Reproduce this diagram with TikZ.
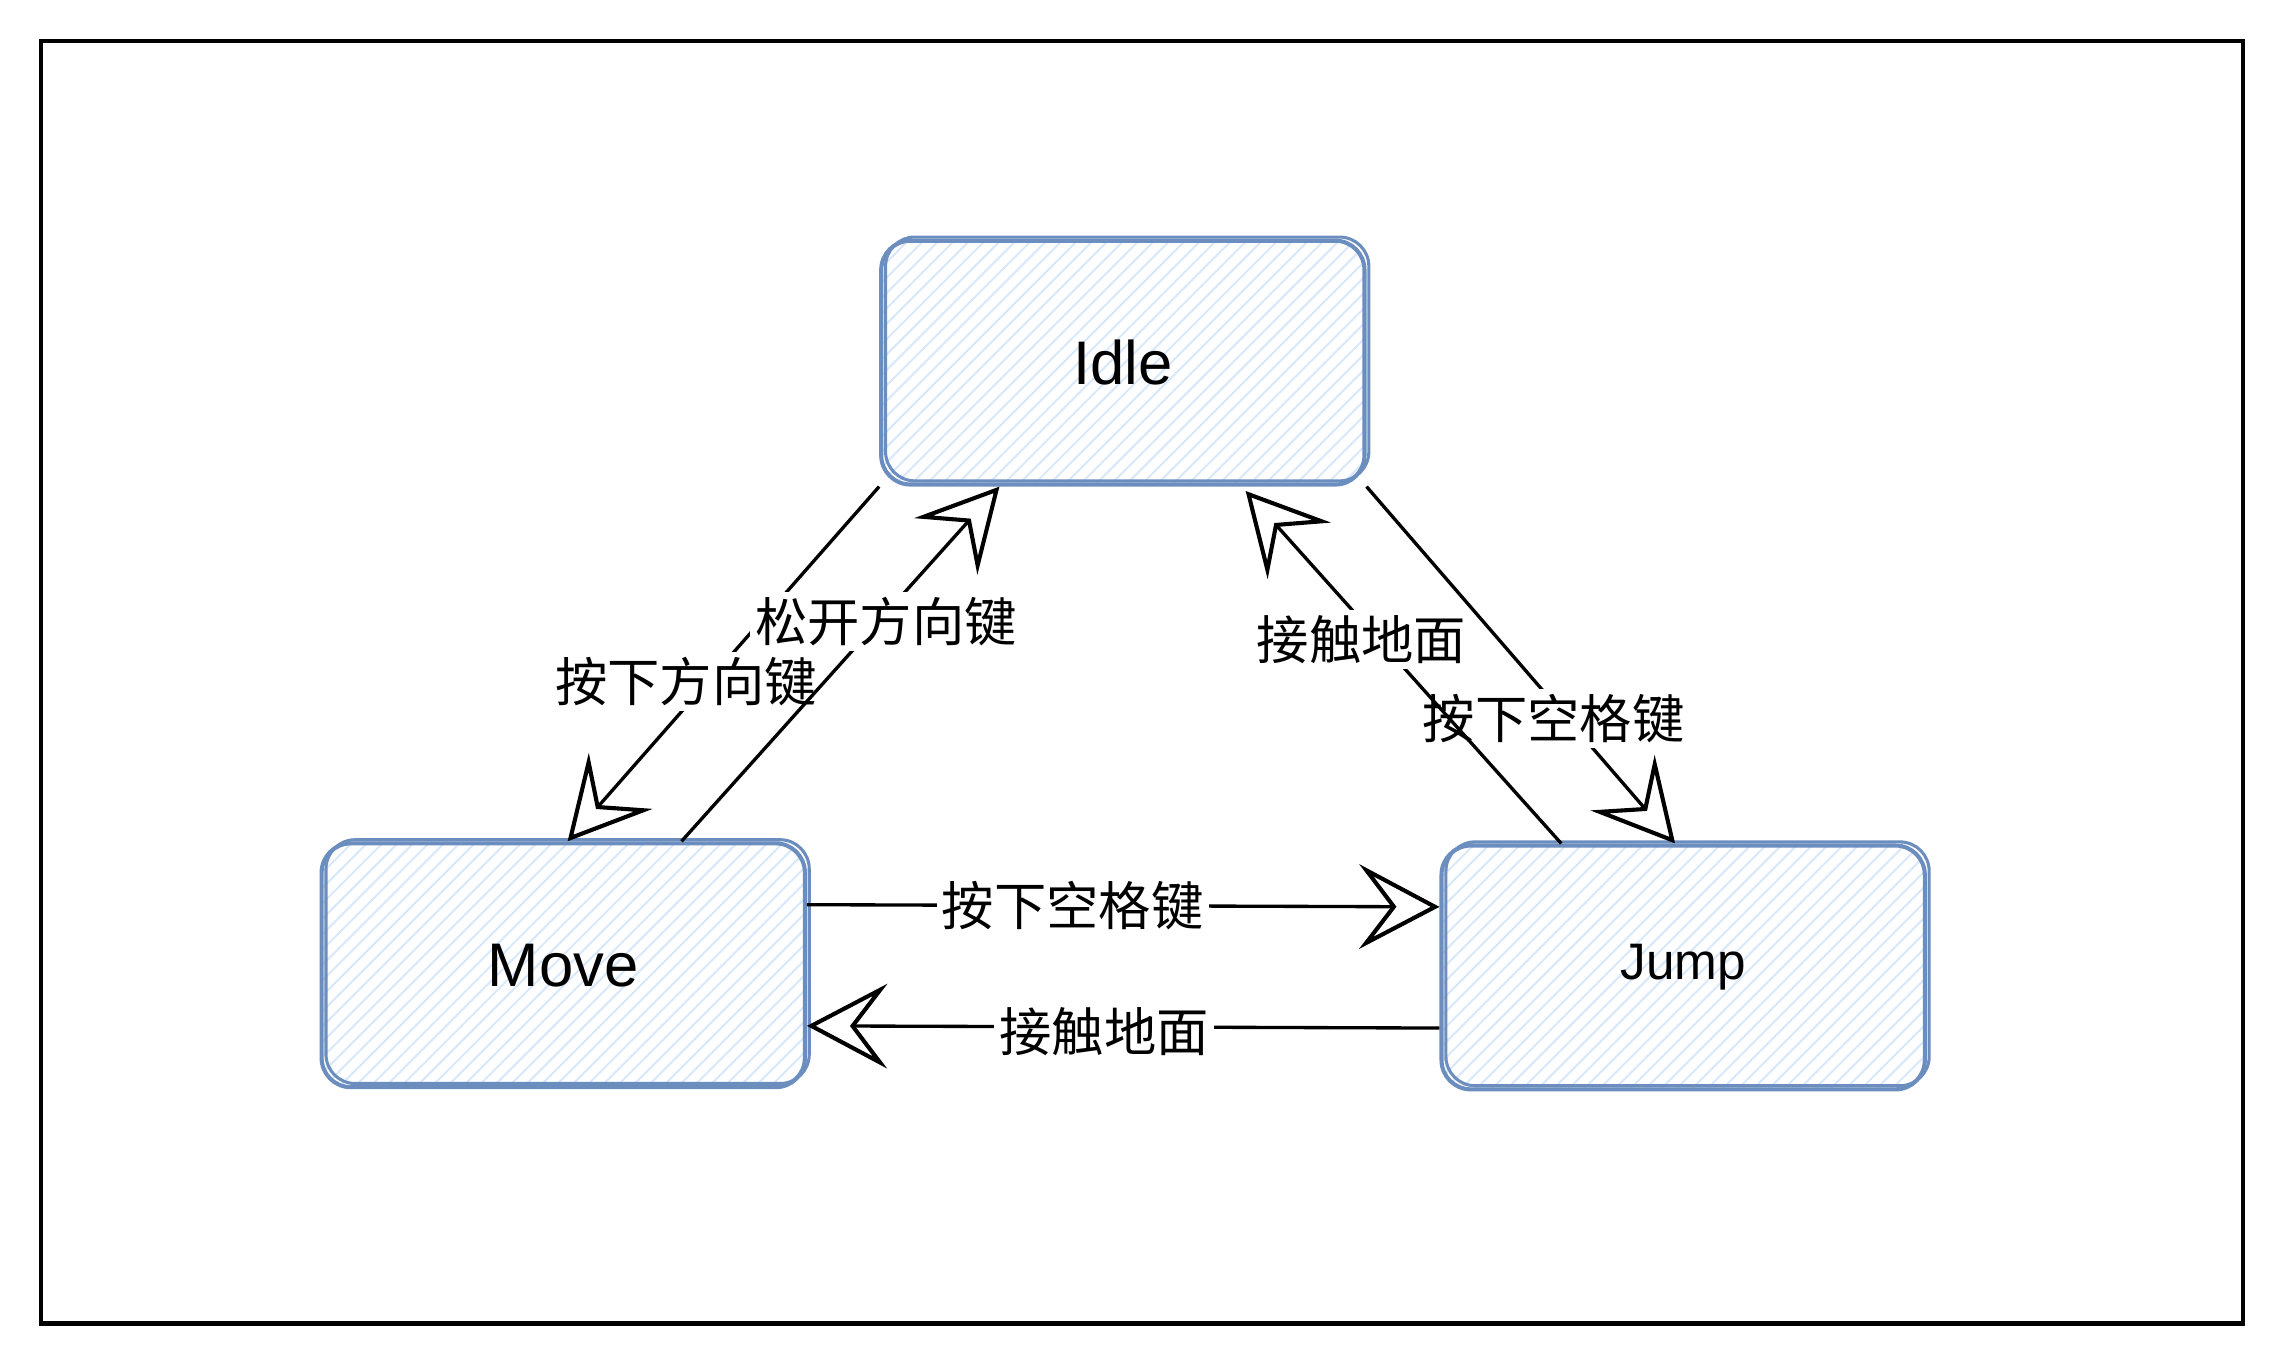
\documentclass[tikz,border=0pt]{standalone}
\usepackage{fontspec}
\setmainfont{Liberation Sans}
\newfontfamily\cjk{Noto Sans CJK SC}
\usetikzlibrary{arrows.meta,patterns,positioning}
\definecolor{boxblue}{HTML}{6C8EBF}
\definecolor{hatchblue}{HTML}{DAE8FC}
\tikzset{
  state/.style={draw=boxblue, line width=0.8pt, rounded corners=0.2cm,
    pattern=north east lines, pattern color=hatchblue,
    minimum width=3.31cm, minimum height=1.67cm, inner sep=0pt,
    font=\fontsize{12pt}{14pt}\selectfont,
    postaction={draw=boxblue, line width=0.6pt, rounded corners=0.25cm,
      transform canvas={shift={(0.03cm,0.025cm)}}}},
  arr/.style={line width=0.65pt,
    -{Stealth[length=0.55cm,width=0.58cm,inset=0.22cm,fill=white,line width=0.8pt]}},
  lbl/.style={fill=white, inner sep=1pt, font=\cjk\fontsize{10.2pt}{12pt}\selectfont}
}
\begin{document}
\begin{tikzpicture}[x=0.01cm, y=-0.01cm]
      \useasboundingbox (0,0) rectangle (1568,935);
      \draw[line width=0.8pt] (28,28) rectangle (1537,907);
      % states
      \node[state] (idle) at (769.5,248.5) {Idle};
      \node[state] (move) at (386,661.5) {Move};
      \node[state, font=\fontsize{10pt}{12pt}\selectfont] (jump) at (1153.5,663) {Jump};
      % transitions
      \path[arr] (idle.south west) edge node[lbl, pos=0.55, xshift=-0.15cm]{按下方向键} ([xshift=0.03cm]move.north);
      \path[arr] ([xshift=0.81cm]move.north) edge node[lbl, pos=0.62, xshift=0.05cm]{松开方向键} ([xshift=-0.845cm]idle.south);
      \path[arr] (idle.south east) edge node[lbl, pos=0.63, xshift=-0.05cm, yshift=-0.05cm]{按下空格键} ([xshift=-0.055cm]jump.north);
      \path[arr] ([xshift=-0.835cm]jump.north) edge node[lbl, pos=0.6, xshift=-0.07cm, yshift=-0.05cm]{接触地面} ([xshift=2.51cm,yshift=-0.03cm]idle.south west);
      \path[arr] ([yshift=0.415cm]move.east) edge node[lbl, pos=0.42]{按下空格键} ([yshift=0.415cm]jump.west);
      \path[arr] ([yshift=-0.415cm]jump.west) edge node[lbl, pos=0.53, yshift=-0.03cm]{接触地面} ([yshift=-0.415cm]move.east);
\end{tikzpicture}
\end{document}
